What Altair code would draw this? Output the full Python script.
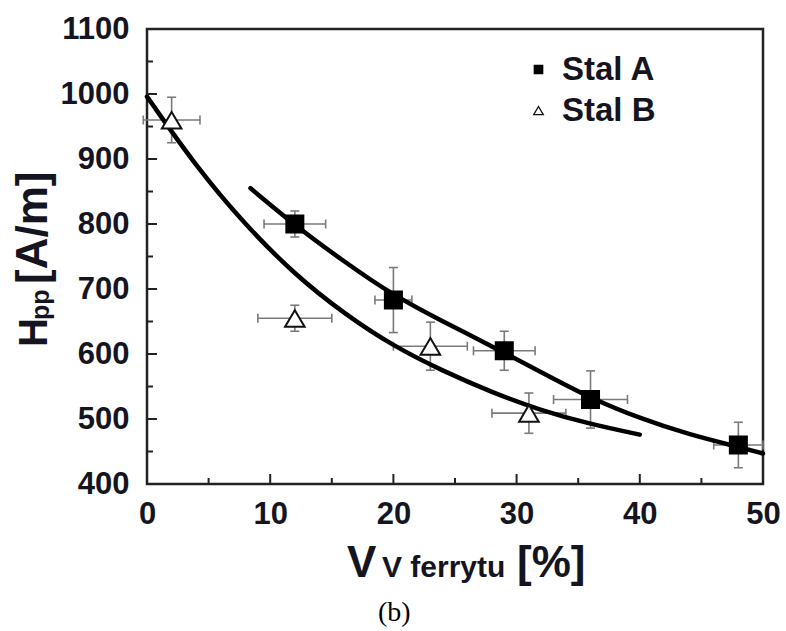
import altair as alt
import pandas as pd

# ---------------- data ----------------
series_names = ["Stal A", "Stal B"]

a_x = [12, 20, 29, 36, 48]
a_y = [800, 683, 605, 530, 460]
a_xerr = [2.5, 1.5, 2.5, 3.0, 2.0]
a_yerr = [20, 50, 30, 44, 35]

b_x = [2, 12, 23, 31]
b_y = [960, 655, 612, 509]
b_xerr = [2.3, 3.0, 3.0, 3.0]
b_yerr = [35, 20, 37, 31]

fit_a_x = [8.4, 12, 16, 20, 24, 28, 32, 36, 40, 44, 48, 50]
fit_a_y = [855, 798, 742, 690, 650, 612, 572, 532, 501, 476, 457, 447]
fit_b_x = [0, 4, 8, 12, 16, 20, 24, 28, 32, 36, 40]
fit_b_y = [996, 888, 798, 722, 662, 612, 574, 541, 513, 492, 476]

x_major = [0, 10, 20, 30, 40, 50]
x_minor = [5, 15, 25, 35, 45]
y_major = [400, 500, 600, 700, 800, 900, 1000, 1100]
y_tick_major = [500, 600, 700, 800, 900, 1000]
y_tick_minor = [450, 550, 650, 750, 850, 950, 1050]

x_title_parts = ["V", "V ferrytu", "[%]"]
y_title_parts = ["H", "pp", "[A/m]"]
caption = ["(b)"]

# ---------------- tables ----------------
rows = []
for s, xs, ys, xe, ye in [
    ("Stal A", a_x, a_y, a_xerr, a_yerr),
    ("Stal B", b_x, b_y, b_xerr, b_yerr),
]:
    for x, y, dx, dy in zip(xs, ys, xe, ye):
        rows.append(dict(series=s, x=x, y=y, xlo=x - dx, xhi=x + dx,
                         ylo=y - dy, yhi=y + dy))
pts = pd.DataFrame(rows)

fits = pd.concat([
    pd.DataFrame(dict(series="Stal A", x=fit_a_x, y=fit_a_y)),
    pd.DataFrame(dict(series="Stal B", x=fit_b_x, y=fit_b_y)),
])

W, H = 616, 455
FONT = "Liberation Sans"
DARK = "#15151f"
ERR = "#7a7a7a"
TRIANGLE = "M0,-0.95L1.15,1L-1.15,1Z"

xscale = alt.Scale(domain=[0, 50], nice=False, zero=False)
yscale = alt.Scale(domain=[400, 1100], nice=False, zero=False)
xaxis = alt.Axis(values=x_major, title=None, grid=False, domain=False, ticks=False,
                 tickSize=0, labelFontSize=31, labelFontWeight="bold", labelFont=FONT,
                 labelColor=DARK, labelPadding=15, labelFlush=False, labelOverlap=False,
                 format="d")
yaxis = alt.Axis(values=y_major, title=None, grid=False, domain=False, ticks=False,
                 tickSize=0, labelFontSize=31, labelFontWeight="bold", labelFont=FONT,
                 labelColor=DARK, labelPadding=18, labelOverlap=False, format="d")


def X(f):
    return alt.X(f, type="quantitative", scale=xscale, axis=xaxis)


def Y(f):
    return alt.Y(f, type="quantitative", scale=yscale, axis=yaxis)


base = alt.Chart(pts)

# error bars
xerr = base.mark_rule(color=ERR, strokeWidth=1.6).encode(x=X("xlo"), x2="xhi", y=Y("y"))
yerr = base.mark_rule(color=ERR, strokeWidth=1.6).encode(x=X("x"), y=Y("ylo"), y2="yhi")
cap_xl = base.mark_tick(orient="vertical", size=9, thickness=1.6, color=ERR, opacity=1).encode(x=X("xlo"), y=Y("y"))
cap_xh = base.mark_tick(orient="vertical", size=9, thickness=1.6, color=ERR, opacity=1).encode(x=X("xhi"), y=Y("y"))
cap_yl = base.mark_tick(orient="horizontal", size=9, thickness=1.6, color=ERR, opacity=1).encode(x=X("x"), y=Y("ylo"))
cap_yh = base.mark_tick(orient="horizontal", size=9, thickness=1.6, color=ERR, opacity=1).encode(x=X("x"), y=Y("yhi"))

# fitted curves
curves = alt.Chart(fits).mark_line(color="black", strokeWidth=4.5, interpolate="basis",
                                   strokeCap="round").encode(
    x=X("x"), y=Y("y"), detail="series:N")

legend = alt.Legend(
    title=None, orient="none", legendX=375, legendY=24,
    labelFontSize=33, labelFont=FONT, labelFontWeight="bold", labelColor=DARK,
    symbolSize=70, labelOffset=7, rowPadding=7, symbolStrokeWidth=1.3,
)

points = base.mark_point(filled=True, strokeWidth=2, opacity=1, size=290).encode(
    x=X("x"), y=Y("y"),
    shape=alt.Shape("series:N", scale=alt.Scale(domain=series_names,
                                                range=["square", TRIANGLE]), legend=legend),
    fill=alt.Fill("series:N", scale=alt.Scale(domain=series_names,
                                              range=["black", "white"]), legend=legend),
    stroke=alt.Stroke("series:N", scale=alt.Scale(domain=series_names,
                                                  range=["black", "#111"]), legend=legend),
)

# inward ticks on left and bottom axes
yt_major = alt.Chart(pd.DataFrame(dict(v=y_tick_major))).mark_rule(color="#222", strokeWidth=2).encode(
    y=Y("v"), x=alt.value(0), x2=alt.value(10))
yt_minor = alt.Chart(pd.DataFrame(dict(v=y_tick_minor))).mark_rule(color="#222", strokeWidth=2).encode(
    y=Y("v"), x=alt.value(0), x2=alt.value(6))
xt_major = alt.Chart(pd.DataFrame(dict(v=x_major[1:-1]))).mark_rule(color="#222", strokeWidth=2).encode(
    x=X("v"), y=alt.value(H), y2=alt.value(H - 10))
xt_minor = alt.Chart(pd.DataFrame(dict(v=x_minor))).mark_rule(color="#222", strokeWidth=2).encode(
    x=X("v"), y=alt.value(H), y2=alt.value(H - 6))


# axis titles built from pieces (main letters + subscript)
def txt(s, x, y, size, angle=0, weight="bold", font=FONT, color=DARK):
    return alt.Chart(pd.DataFrame(dict(t=[s]))).mark_text(
        align="left", baseline="alphabetic", fontSize=size, fontWeight=weight,
        font=font, color=color, angle=angle).encode(
        x=alt.value(x), y=alt.value(y), text="t:N")


xt1 = txt(x_title_parts[0], 347 - 147, 577 - 29, 44)
xt2 = txt(x_title_parts[1], 382 - 147, 577 - 29, 30)
xt3 = txt(x_title_parts[2], 517 - 147, 577 - 29, 44)

yt1 = txt(y_title_parts[0], 47 - 147, 347 - 29, 40, angle=270)
yt2 = txt(y_title_parts[1], 49 - 147, 320 - 29, 25, angle=270)
yt3 = txt(y_title_parts[2], 47 - 147, 284 - 29, 44, angle=270)

cap = txt(caption[0], 378 - 147, 621 - 29, 28, weight="normal", font="Liberation Serif",
          color="black")

chart = alt.layer(
    xerr, yerr, cap_xl, cap_xh, cap_yl, cap_yh,
    curves, points,
    yt_major, yt_minor, xt_major, xt_minor,
    xt1, xt2, xt3, yt1, yt2, yt3, cap,
).properties(
    width=W, height=H,
    autosize=alt.AutoSizeParams(type="none"),
    padding={"left": 147, "top": 29, "right": 23, "bottom": 147},
    background="white",
).configure_view(
    stroke="#222", strokeWidth=2.5
)

chart.save("out.html", embed_options={"renderer": "svg", "actions": False})
